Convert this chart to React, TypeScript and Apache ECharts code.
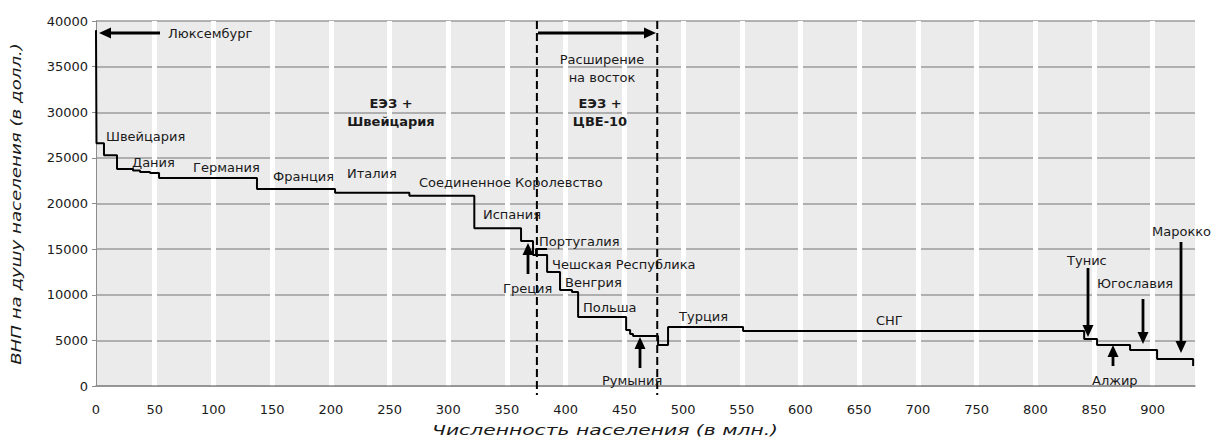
import React, { useEffect, useRef } from "react";
import * as echarts from "echarts";

// Cumulative population (millions) at which each country's step begins
const segStart = [0, 0.4, 6.8, 17.9, 31.5, 37.5, 46, 53.7, 137.1, 203.6, 266.9, 322.2, 362.0, 372.2, 384.2, 395.2, 405.4, 410.6, 451.5, 454.9, 457.4, 478.7, 487.2, 551.1, 841.6, 852.6, 880.7, 903.7, 934.4];
// GNP per capita (USD) for each step
const gnpPerCapita = [39000, 26600, 25300, 23780, 23620, 23450, 23340, 22800, 21600, 21180, 20850, 17300, 15890, 14360, 12490, 10520, 10300, 7560, 6140, 5700, 5480, 4490, 6470, 6030, 5150, 4490, 3950, 2960, 2190];
// Small Portugal bump drawn over the Greece/CEE junction
const bumpX = [374.8, 374.8, 384.2];
const bumpY = [14360, 15010, 15010];
// Vertical dividers (population, millions)
const dividers = [375.5, 478];

const FONT = "DejaVu Sans";
const TXT = "#1a1a1a";

type Ann = { t: string; x: number; y: number; align?: string; bold?: boolean };
const annotations: Ann[] = [
  { t: "Люксембург", x: 168, y: 33 },
  { t: "Швейцария", x: 106, y: 136 },
  { t: "Дания", x: 132, y: 162 },
  { t: "Германия", x: 193, y: 167 },
  { t: "Франция", x: 273, y: 176 },
  { t: "Италия", x: 347, y: 173 },
  { t: "Соединенное Королевство", x: 419, y: 182 },
  { t: "Испания", x: 483, y: 214 },
  { t: "Португалия", x: 539, y: 241 },
  { t: "Чешская Республика", x: 552, y: 264 },
  { t: "Венгрия", x: 565, y: 282 },
  { t: "Польша", x: 583, y: 307 },
  { t: "Греция", x: 503, y: 288 },
  { t: "Румыния", x: 602, y: 380 },
  { t: "Турция", x: 679, y: 316 },
  { t: "СНГ", x: 876, y: 320 },
  { t: "Тунис", x: 1067, y: 260 },
  { t: "Югославия", x: 1097, y: 283 },
  { t: "Марокко", x: 1152, y: 231 },
  { t: "Алжир", x: 1092, y: 380 },
  { t: "Расширение", x: 602, y: 59, align: "center" },
  { t: "на восток", x: 602, y: 77, align: "center" },
  { t: "ЕЭЗ +", x: 391, y: 103, align: "center", bold: true },
  { t: "Швейцария", x: 391, y: 121, align: "center", bold: true },
  { t: "ЕЭЗ +", x: 600, y: 103, align: "center", bold: true },
  { t: "ЦВЕ-10", x: 600, y: 121, align: "center", bold: true },
];

// arrows: [x1, y1, tipX, tipY]
const arrows: number[][] = [
  [160, 33, 99, 33],
  [538, 33, 656, 33],
  [528, 274, 528, 243],
  [640, 368, 640, 337],
  [1088, 268, 1088, 337],
  [1143, 299, 1143, 344],
  [1181, 242, 1181, 353],
  [1113, 366, 1113, 345],
];

function arrowEls(a: number[]) {
  const [x1, y1, x2, y2] = a;
  const dx = x2 - x1, dy = y2 - y1;
  const len = Math.sqrt(dx * dx + dy * dy);
  const ux = dx / len, uy = dy / len;
  const hl = 12, hw = 5.5;
  const bx = x2 - ux * hl, by = y2 - uy * hl;
  const px = -uy, py = ux;
  return [
    { type: "line", shape: { x1, y1, x2: bx, y2: by }, style: { stroke: "#000", lineWidth: 2.8 }, z: 10 },
    {
      type: "polygon",
      shape: { points: [[x2, y2], [bx + px * hw, by + py * hw], [bx - px * hw, by - py * hw]] },
      style: { fill: "#000" },
      z: 10,
    },
  ];
}

export default function App() {
  const ref = useRef<HTMLDivElement>(null);
  useEffect(() => {
    const chart = echarts.init(ref.current!, null, { renderer: "svg" });
    const stepData = segStart.map((x, i) => [x, gnpPerCapita[i]]);
    const bumpData = bumpX.map((x, i) => [x, bumpY[i]]);
    chart.setOption({
      animation: false,
      grid: { left: 96, right: 21, top: 21, bottom: 53, show: true, backgroundColor: "#ebebeb", borderWidth: 0 },
      xAxis: {
        type: "value", min: 0, max: 936, interval: 50, z: 1,
        axisLine: { show: true, onZero: false, lineStyle: { color: "#8c8c8c", width: 1.5 } },
        axisTick: { show: false },
        axisLabel: { color: TXT, fontSize: 13, fontFamily: FONT, margin: 17, showMaxLabel: false, formatter: (v: number) => String(v) },
        splitLine: { show: true, showMinLine: false, showMaxLine: false, lineStyle: { color: "#ffffff", width: 5 } },
      },
      yAxis: {
        type: "value", min: 0, max: 40000, interval: 5000, z: 0,
        axisLine: { show: true, lineStyle: { color: "#8c8c8c", width: 1 } },
        axisTick: { show: true, length: 4, lineStyle: { color: "#8c8c8c" } },
        axisLabel: { color: TXT, fontSize: 13, fontFamily: FONT, margin: 8, formatter: (v: number) => String(v) },
        splitLine: { show: true, lineStyle: { color: "#9b9b9b", width: 1.5 } },
      },
      series: [
        { type: "line", step: "end", data: stepData, symbol: "none", lineStyle: { color: "#000", width: 2 }, z: 3 },
        { type: "line", data: bumpData, symbol: "none", lineStyle: { color: "#000", width: 2 }, z: 3 },
      ],
    });

    const gfx: any[] = [];
    dividers.forEach((v) => {
      const px = chart.convertToPixel({ xAxisIndex: 0 }, v) as number;
      gfx.push({ type: "line", shape: { x1: px, y1: 21, x2: px, y2: 395 }, style: { stroke: "#000", lineWidth: 2, lineDash: [8, 4] }, z: 9 });
    });
    arrows.forEach((a) => gfx.push(...arrowEls(a)));
    annotations.forEach((a) =>
      gfx.push({
        type: "text", x: a.x, y: a.y, z: 11,
        style: {
          text: a.t, fill: TXT, align: a.align || "left", verticalAlign: "middle",
          font: `${a.bold ? "bold " : ""}13px "${FONT}"`,
        },
      })
    );
    gfx.push({
      type: "text", x: 16, y: 204, rotation: Math.PI / 2, scaleX: 1.3, z: 11,
      style: { text: "ВНП на душу населения (в долл.)", fill: TXT, align: "center", verticalAlign: "middle", font: `italic 14px "${FONT}"` },
    });
    gfx.push({
      type: "text", x: 605, y: 430, scaleX: 1.45, z: 11,
      style: { text: "Численность населения (в млн.)", fill: TXT, align: "center", verticalAlign: "middle", font: `italic 14px "${FONT}"` },
    });
    chart.setOption({ graphic: gfx });
    return () => chart.dispose();
  }, []);
  return <div ref={ref} style={{ position: "fixed", left: 0, top: 0, width: 1216, height: 439, background: "#fff" }} />;
}
